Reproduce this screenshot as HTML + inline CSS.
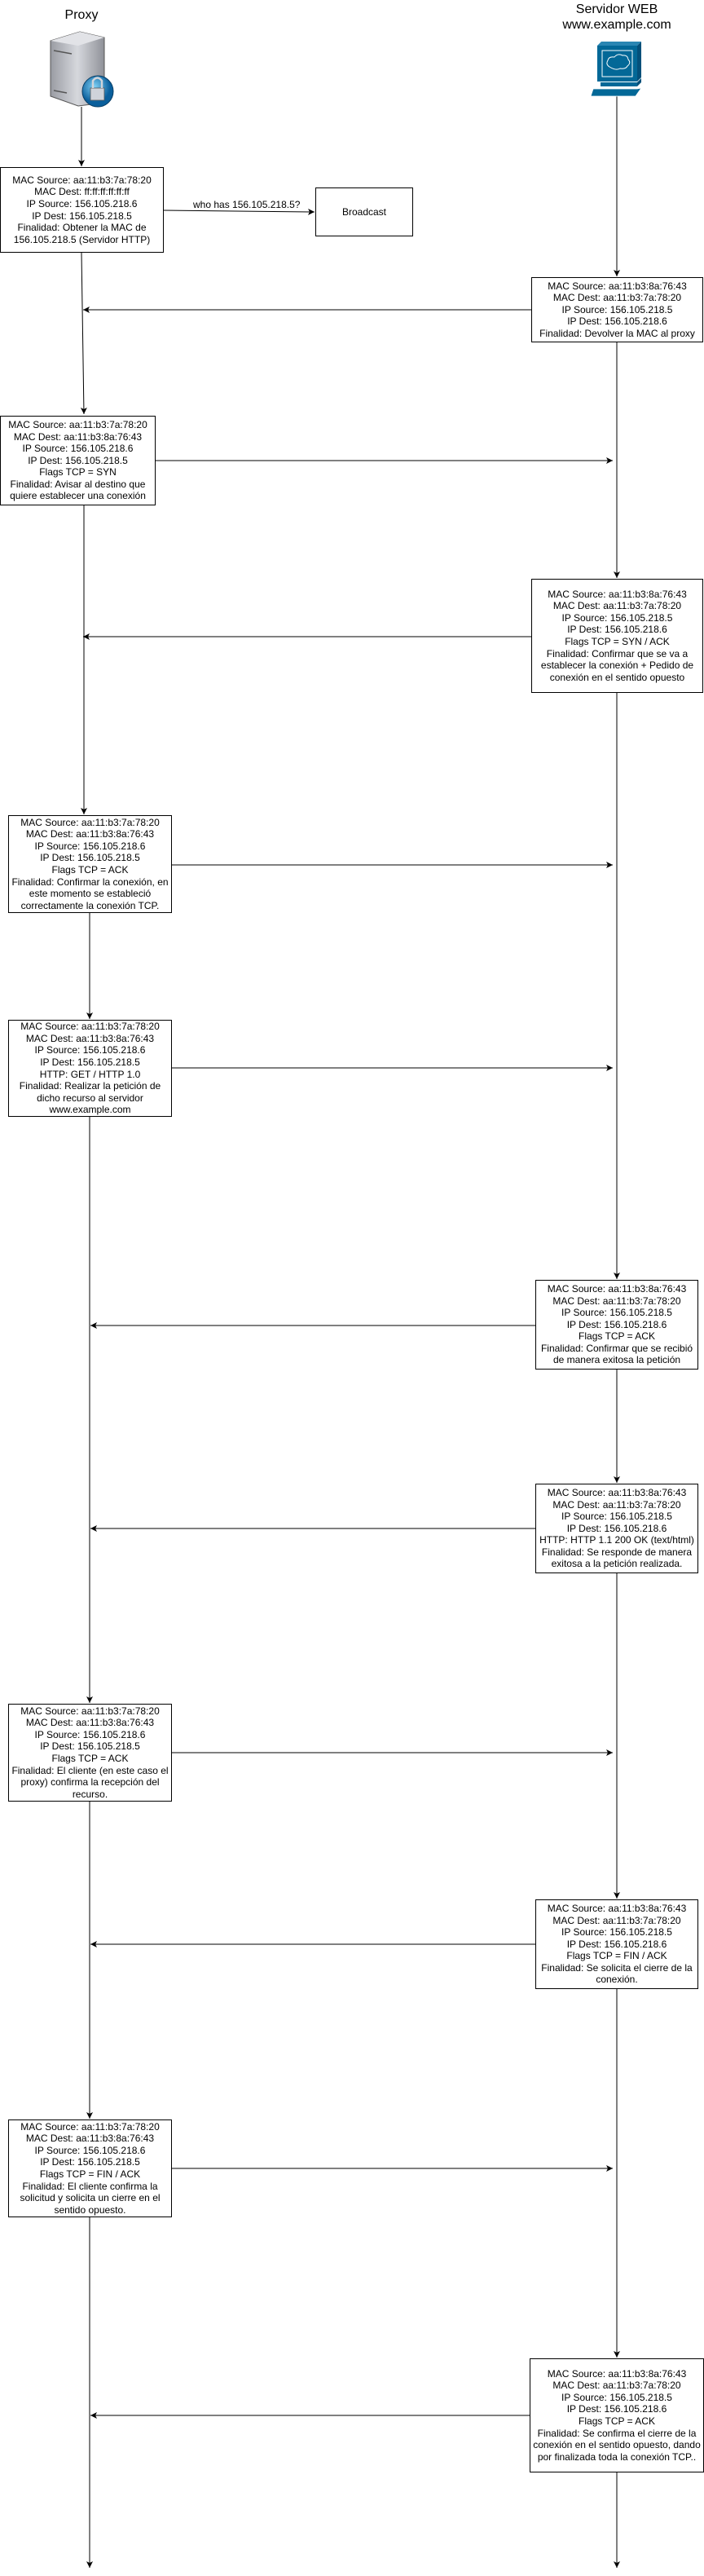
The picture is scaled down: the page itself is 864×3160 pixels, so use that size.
<!DOCTYPE html>
<html><head><meta charset="utf-8"><style>
html,body{margin:0;padding:0;background:#fff;}
body{width:864px;height:3160px;position:relative;overflow:hidden;font-family:"Liberation Sans",Arial,sans-serif;}
.b{position:absolute;border:1px solid #000;box-sizing:border-box;display:flex;align-items:center;justify-content:center;text-align:center;font-size:12px;line-height:14.6px;color:#000;background:#fff;}
.t{position:absolute;font-size:12px;color:#000;white-space:nowrap;}
svg{position:absolute;left:0;top:0;}
</style></head><body>
<svg width="864" height="3160" viewBox="0 0 864 3160">
<defs><marker id="a" markerWidth="10" markerHeight="10" refX="8" refY="4" orient="auto" markerUnits="userSpaceOnUse"><path d="M0,0 L8,4 L0,8 L2,4 z" fill="#000"/></marker></defs>
<g stroke="#000" stroke-width="1" fill="none">
<!-- proxy lifeline -->
<line x1="100" y1="131" x2="100" y2="204" marker-end="url(#a)"/>
<line x1="100" y1="310" x2="103" y2="508" marker-end="url(#a)"/>
<line x1="103" y1="620" x2="103" y2="999" marker-end="url(#a)"/>
<line x1="110" y1="1120" x2="110" y2="1250" marker-end="url(#a)"/>
<line x1="110" y1="1370" x2="110" y2="2089" marker-end="url(#a)"/>
<line x1="110" y1="2210" x2="110" y2="2599" marker-end="url(#a)"/>
<line x1="110" y1="2720" x2="110" y2="3150" marker-end="url(#a)"/>
<!-- server lifeline -->
<line x1="757" y1="118" x2="757" y2="339" marker-end="url(#a)"/>
<line x1="757" y1="420" x2="757" y2="709" marker-end="url(#a)"/>
<line x1="757" y1="850" x2="757" y2="1569" marker-end="url(#a)"/>
<line x1="757" y1="1680" x2="757" y2="1819" marker-end="url(#a)"/>
<line x1="757" y1="1930" x2="757" y2="2329" marker-end="url(#a)"/>
<line x1="757" y1="2440" x2="757" y2="2892" marker-end="url(#a)"/>
<line x1="757" y1="3033" x2="757" y2="3150" marker-end="url(#a)"/>
<!-- horizontal -->
<line x1="201" y1="258" x2="386" y2="260" marker-end="url(#a)"/>
<line x1="652" y1="380" x2="102" y2="380" marker-end="url(#a)"/>
<line x1="191" y1="565" x2="752" y2="565" marker-end="url(#a)"/>
<line x1="652" y1="781" x2="102" y2="781" marker-end="url(#a)"/>
<line x1="211" y1="1061" x2="752" y2="1061" marker-end="url(#a)"/>
<line x1="211" y1="1310" x2="752" y2="1310" marker-end="url(#a)"/>
<line x1="657" y1="1626" x2="111" y2="1626" marker-end="url(#a)"/>
<line x1="657" y1="1875" x2="111" y2="1875" marker-end="url(#a)"/>
<line x1="211" y1="2150" x2="752" y2="2150" marker-end="url(#a)"/>
<line x1="657" y1="2385" x2="111" y2="2385" marker-end="url(#a)"/>
<line x1="211" y1="2660" x2="752" y2="2660" marker-end="url(#a)"/>
<line x1="650" y1="2963" x2="111" y2="2963" marker-end="url(#a)"/>
</g>
<!-- proxy icon -->
<defs><linearGradient id="g1" x1="0" x2="1"><stop offset="0" stop-color="#9a9ca3"/><stop offset="0.5" stop-color="#d6d8dd"/><stop offset="1" stop-color="#8f9198"/></linearGradient>
<radialGradient id="g2" cx="0.4" cy="0.35"><stop offset="0" stop-color="#7fd0f5"/><stop offset="1" stop-color="#0a5f9c"/></radialGradient></defs>
<path d="M62,50 L98,39 L128,46 L128,126 L96,130 L62,118 z" fill="url(#g1)" stroke="#555" stroke-width="1"/>
<path d="M62,50 L98,39 L128,46 L96,56 z" fill="#e2e3e7"/>
<line x1="66" y1="62" x2="88" y2="66" stroke="#555" stroke-width="1.5"/>
<line x1="66" y1="111" x2="82" y2="114" stroke="#555" stroke-width="1.5"/>
<circle cx="120" cy="112" r="19" fill="url(#g2)" stroke="#083e66" stroke-width="1"/>
<rect x="111" y="108" width="17" height="15" fill="#cfd3da" stroke="#555" stroke-width="0.8"/>
<path d="M114,108 L114,99 Q119.5,92 125,99 L125,108" fill="none" stroke="#d0d4da" stroke-width="2.5"/>
<!-- server icon -->
<path d="M733,56 L738,51 L787,51 L782,56 z" fill="#2a86b3"/>
<path d="M782,56 L787,51 L787,95 L782,100 z" fill="#04507a"/>
<rect x="733" y="56" width="49" height="44" fill="#036897"/>
<rect x="739" y="62" width="37" height="32" fill="none" stroke="#fff" stroke-width="1"/>
<path d="M748,82 q-5,-3 -2,-8 q1,-5 8,-4 q4,-5 10,-2 q6,-1 7,5 q4,4 -1,8 q-2,4 -9,3 q-5,3 -13,-2 z" fill="none" stroke="#fff" stroke-width="1"/>
<rect x="737" y="101" width="45" height="5" fill="#036897"/>
<path d="M782,101 L787,96 L787,101 L782,106 z" fill="#04507a"/>
<path d="M728,109 L782,109 L787,108 L780,118 L725,118 z" fill="#036897" stroke="#fff" stroke-width="0.8"/>
</svg>

<div class="t" style="left:0;width:200px;top:10px;text-align:center;font-size:16px;">Proxy</div>
<div class="t" style="left:657px;width:200px;top:2px;text-align:center;font-size:16px;line-height:19px;">Servidor WEB<br>www.example.com</div>
<div class="t" style="left:237px;top:244px;font-size:12px;">who has 156.105.218.5?</div>

<div class="b" style="left:0;top:205px;width:201px;height:105px;">MAC Source: aa:11:b3:7a:78:20<br>MAC Dest: ff:ff:ff:ff:ff:ff<br>IP Source: 156.105.218.6<br>IP Dest: 156.105.218.5<br>Finalidad: Obtener la MAC de<br>156.105.218.5 (Servidor HTTP)</div>
<div class="b" style="left:387px;top:230px;width:120px;height:60px;">Broadcast</div>
<div class="b" style="left:652px;top:340px;width:211px;height:80px;">MAC Source: aa:11:b3:8a:76:43<br>MAC Dest: aa:11:b3:7a:78:20<br>IP Source: 156.105.218.5<br>IP Dest: 156.105.218.6<br>Finalidad: Devolver la MAC al proxy</div>
<div class="b" style="left:0;top:510px;width:191px;height:110px;">MAC Source: aa:11:b3:7a:78:20<br>MAC Dest: aa:11:b3:8a:76:43<br>IP Source: 156.105.218.6<br>IP Dest: 156.105.218.5<br>Flags TCP = SYN<br>Finalidad: Avisar al destino que<br>quiere establecer una conexión</div>
<div class="b" style="left:652px;top:710px;width:211px;height:140px;">MAC Source: aa:11:b3:8a:76:43<br>MAC Dest: aa:11:b3:7a:78:20<br>IP Source: 156.105.218.5<br>IP Dest: 156.105.218.6<br>Flags TCP = SYN / ACK<br>Finalidad: Confirmar que se va a<br>establecer la conexión + Pedido de<br>conexión en el sentido opuesto</div>
<div class="b" style="left:10px;top:1000px;width:201px;height:120px;">MAC Source: aa:11:b3:7a:78:20<br>MAC Dest: aa:11:b3:8a:76:43<br>IP Source: 156.105.218.6<br>IP Dest: 156.105.218.5<br>Flags TCP = ACK<br>Finalidad: Confirmar la conexión, en<br>este momento se estableció<br>correctamente la conexión TCP.</div>
<div class="b" style="left:10px;top:1251px;width:201px;height:119px;">MAC Source: aa:11:b3:7a:78:20<br>MAC Dest: aa:11:b3:8a:76:43<br>IP Source: 156.105.218.6<br>IP Dest: 156.105.218.5<br>HTTP: GET / HTTP 1.0<br>Finalidad: Realizar la petición de<br>dicho recurso al servidor<br>www.example.com</div>
<div class="b" style="left:657px;top:1570px;width:200px;height:110px;">MAC Source: aa:11:b3:8a:76:43<br>MAC Dest: aa:11:b3:7a:78:20<br>IP Source: 156.105.218.5<br>IP Dest: 156.105.218.6<br>Flags TCP = ACK<br>Finalidad: Confirmar que se recibió<br>de manera exitosa la petición</div>
<div class="b" style="left:657px;top:1820px;width:200px;height:110px;">MAC Source: aa:11:b3:8a:76:43<br>MAC Dest: aa:11:b3:7a:78:20<br>IP Source: 156.105.218.5<br>IP Dest: 156.105.218.6<br>HTTP: HTTP 1.1 200 OK (text/html)<br>Finalidad: Se responde de manera<br>exitosa a la petición realizada.</div>
<div class="b" style="left:10px;top:2090px;width:201px;height:120px;">MAC Source: aa:11:b3:7a:78:20<br>MAC Dest: aa:11:b3:8a:76:43<br>IP Source: 156.105.218.6<br>IP Dest: 156.105.218.5<br>Flags TCP = ACK<br>Finalidad: El cliente (en este caso el<br>proxy) confirma la recepción del<br>recurso.</div>
<div class="b" style="left:657px;top:2330px;width:200px;height:110px;">MAC Source: aa:11:b3:8a:76:43<br>MAC Dest: aa:11:b3:7a:78:20<br>IP Source: 156.105.218.5<br>IP Dest: 156.105.218.6<br>Flags TCP = FIN / ACK<br>Finalidad: Se solicita el cierre de la<br>conexión.</div>
<div class="b" style="left:10px;top:2600px;width:201px;height:120px;">MAC Source: aa:11:b3:7a:78:20<br>MAC Dest: aa:11:b3:8a:76:43<br>IP Source: 156.105.218.6<br>IP Dest: 156.105.218.5<br>Flags TCP = FIN / ACK<br>Finalidad: El cliente confirma la<br>solicitud y solicita un cierre en el<br>sentido opuesto.</div>
<div class="b" style="left:650px;top:2893px;width:214px;height:140px;">MAC Source: aa:11:b3:8a:76:43<br>MAC Dest: aa:11:b3:7a:78:20<br>IP Source: 156.105.218.5<br>IP Dest: 156.105.218.6<br>Flags TCP = ACK<br>Finalidad: Se confirma el cierre de la<br>conexión en el sentido opuesto, dando<br>por finalizada toda la conexión TCP..</div>
</body></html>
